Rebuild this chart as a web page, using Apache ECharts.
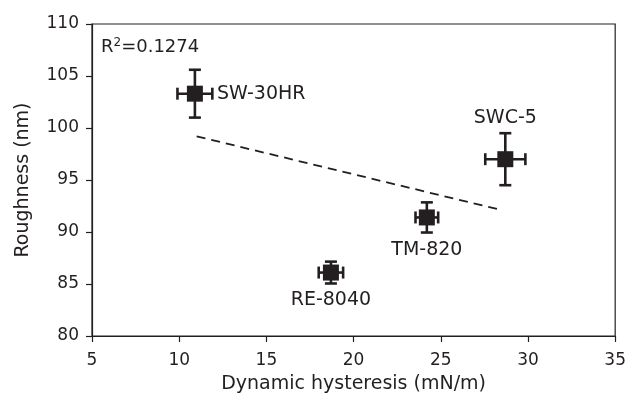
<!DOCTYPE html>
<html>
<head>
<meta charset="utf-8">
<script src="https://cdn.jsdelivr.net/npm/echarts@6/dist/echarts.min.js"></script>
<style>
  html, body { margin: 0; padding: 0; background: #fff; }
  #chart { width: 629px; height: 399px; }
</style>
</head>
<body>
<div id="chart"></div>
<script>
// membranes: dynamic hysteresis vs roughness
const names = ['SW-30HR', 'SWC-5', 'TM-820', 'RE-8040'];
const hysteresis = [10.9, 28.7, 24.2, 18.7];
const roughness = [103.3, 97.0, 91.4, 86.1];
const hysteresisErr = [1.0, 1.15, 0.65, 0.7];
const roughnessErr = [2.3, 2.5, 1.45, 1.05];
// trend line end points
const trendX = [11.0, 28.5];
const trendY = [99.2, 92.1];
const xTicks = [5, 35, 5];   // min, max, step
const yTicks = [80, 110, 5];

const labelPos = {
    'SW-30HR': ['right', 14],
    'SWC-5': ['top', 24],
    'TM-820': ['bottom', 15],
    'RE-8040': ['bottom', 10]
};

const ink = '#231f20';
const font = 'DejaVu Sans, Arial, sans-serif';

const myChart = echarts.init(document.getElementById('chart'));

const points = names.map(function (n, i) {
    return {
        name: n,
        value: [hysteresis[i], roughness[i]],
        label: {position: labelPos[n][0], distance: labelPos[n][1]}
    };
});
const bars = names.map(function (n, i) {
    return [hysteresis[i], roughness[i], hysteresisErr[i], roughnessErr[i]];
});

function renderErrorBar(params, api) {
    const x = api.value(0), y = api.value(1);
    const ex = api.value(2), ey = api.value(3);
    const top = api.coord([x, y + ey]);
    const bottom = api.coord([x, y - ey]);
    const left = api.coord([x - ex, y]);
    const right = api.coord([x + ex, y]);
    const cap = 6;
    const style = {stroke: ink, lineWidth: 2.6};
    return {
        type: 'group',
        children: [
            {type: 'line', shape: {x1: top[0], y1: top[1], x2: bottom[0], y2: bottom[1]}, style: style},
            {type: 'line', shape: {x1: top[0] - cap, y1: top[1], x2: top[0] + cap, y2: top[1]}, style: style},
            {type: 'line', shape: {x1: bottom[0] - cap, y1: bottom[1], x2: bottom[0] + cap, y2: bottom[1]}, style: style},
            {type: 'line', shape: {x1: left[0], y1: left[1], x2: right[0], y2: right[1]}, style: style},
            {type: 'line', shape: {x1: left[0], y1: left[1] - cap, x2: left[0], y2: left[1] + cap}, style: style},
            {type: 'line', shape: {x1: right[0], y1: right[1] - cap, x2: right[0], y2: right[1] + cap}, style: style}
        ]
    };
}

const option = {
    backgroundColor: '#ffffff',
    animation: false,
    textStyle: {fontFamily: font, color: ink},
    title: {
        left: 96,
        top: 32,
        text: 'R{sup|2}=0.1274',
        textStyle: {
            fontFamily: font,
            fontSize: 18,
            fontWeight: 'normal',
            color: ink,
            rich: {
                sup: {fontSize: 12, verticalAlign: 'top', padding: [0, 0, 8, 0], fontFamily: font, color: ink}
            }
        }
    },
    grid: {
        left: 92,
        right: 12,
        top: 24,
        bottom: 63,
        show: true,
        borderColor: ink,
        borderWidth: 1.2
    },
    xAxis: {
        type: 'value',
        min: xTicks[0],
        max: xTicks[1],
        interval: xTicks[2],
        name: 'Dynamic hysteresis (mN/m)',
        nameLocation: 'middle',
        nameGap: 39,
        nameTextStyle: {fontFamily: font, fontSize: 19, color: ink},
        axisLine: {show: true, lineStyle: {color: ink, width: 1.2}},
        axisTick: {show: true, length: 6, lineStyle: {color: ink, width: 1.2}},
        axisLabel: {fontFamily: font, fontSize: 17, color: ink, margin: 16},
        splitLine: {show: false}
    },
    yAxis: {
        type: 'value',
        min: yTicks[0],
        max: yTicks[1],
        interval: yTicks[2],
        name: 'Roughness (nm)',
        nameLocation: 'middle',
        nameGap: 59,
        nameTextStyle: {fontFamily: font, fontSize: 19, color: ink},
        axisLine: {show: true, lineStyle: {color: ink, width: 1.2}},
        axisTick: {show: true, length: 6, lineStyle: {color: ink, width: 1.2}},
        axisLabel: {fontFamily: font, fontSize: 17, color: ink, margin: 13},
        splitLine: {show: false}
    },
    series: [
        {
            type: 'line',
            data: trendX.map(function (x, i) { return [x, trendY[i]]; }),
            symbol: 'none',
            lineStyle: {color: ink, width: 1.8, type: [9, 6]},
            z: 1
        },
        {
            type: 'custom',
            renderItem: renderErrorBar,
            data: bars,
            z: 3
        },
        {
            type: 'scatter',
            data: points,
            symbol: 'rect',
            symbolSize: 16,
            itemStyle: {color: ink, opacity: 1},
            label: {
                show: true,
                formatter: '{b}',
                fontFamily: font,
                fontSize: 19,
                color: ink
            },
            z: 4
        }
    ]
};

myChart.setOption(option);
window.onresize = myChart.resize;
</script>
</body>
</html>
